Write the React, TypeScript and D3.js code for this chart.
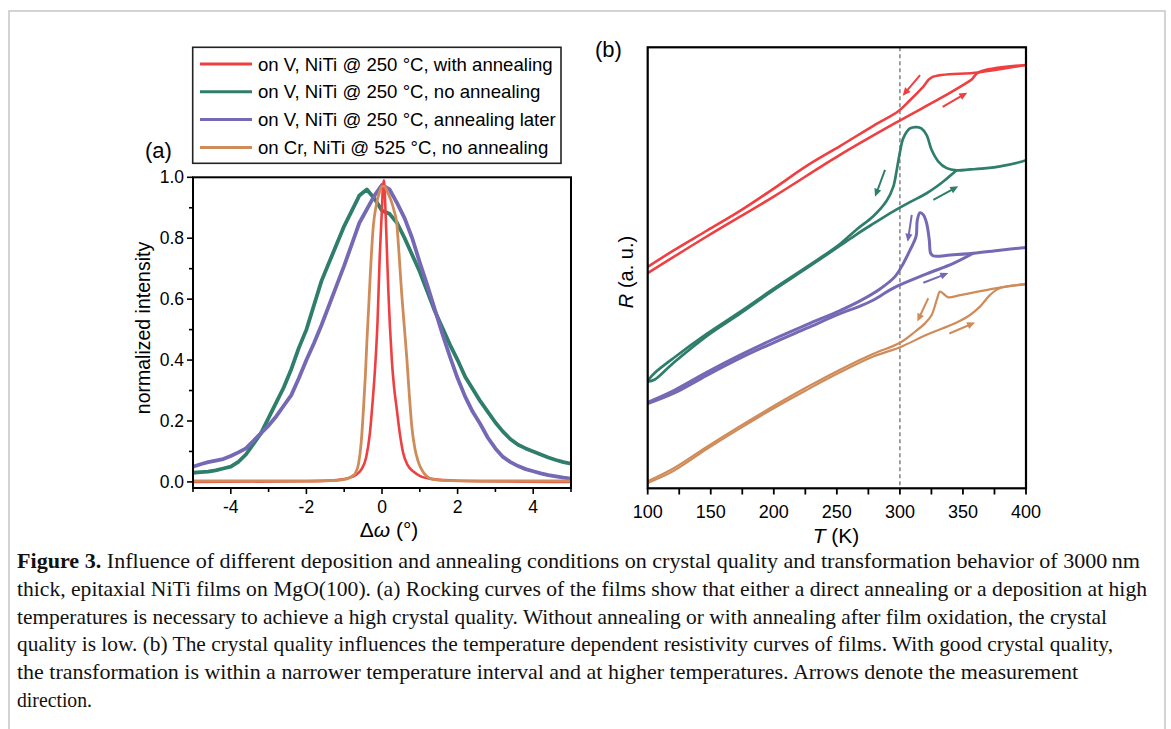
import React from "react";
import * as d3 from "d3";

const W = 1171;
const H = 729;

// ---- panel (a): rocking curves ----
const omegaGrid = [
  -5.0, -4.8, -4.6, -4.4, -4.2, -4.0, -3.8, -3.6, -3.4, -3.2, -3.0, -2.8, -2.6, -2.4, -2.2, -2.0, -1.8,
  -1.6, -1.4, -1.2, -1.0, -0.8, -0.6, -0.4, -0.2, 0.0, 0.2, 0.4, 0.6, 0.8, 1.0, 1.2, 1.4, 1.6, 1.8, 2.0,
  2.2, 2.4, 2.6, 2.8, 3.0, 3.2, 3.4, 3.6, 3.8, 4.0, 4.2, 4.4, 4.6, 4.8, 5.0,
];
const greenIntensity = [
  0.03, 0.032, 0.034, 0.038, 0.044, 0.05, 0.066, 0.09, 0.125, 0.16, 0.21, 0.26, 0.31, 0.37, 0.44, 0.5,
  0.58, 0.66, 0.72, 0.78, 0.84, 0.89, 0.94, 0.96, 0.93, 0.89, 0.88, 0.85, 0.8, 0.745, 0.69, 0.625, 0.56,
  0.505, 0.45, 0.4, 0.345, 0.305, 0.265, 0.23, 0.195, 0.165, 0.14, 0.122, 0.11, 0.1, 0.09, 0.08, 0.072,
  0.065, 0.06,
];
const purpleIntensity = [
  0.05, 0.058, 0.065, 0.07, 0.075, 0.085, 0.097, 0.11, 0.135, 0.16, 0.185, 0.215, 0.25, 0.285, 0.34, 0.4,
  0.455, 0.515, 0.58, 0.645, 0.71, 0.78, 0.85, 0.895, 0.94, 0.975, 0.96, 0.915, 0.865, 0.8, 0.72, 0.645,
  0.565, 0.485, 0.41, 0.34, 0.28, 0.23, 0.19, 0.145, 0.11, 0.082, 0.065, 0.052, 0.042, 0.035, 0.028,
  0.022, 0.018, 0.014, 0.011,
];
const redOmega = [
  -5, -2, -1.2, -0.9, -0.7, -0.55, -0.42, -0.32, -0.25, -0.18, -0.12, -0.06, 0.0, 0.02, 0.05, 0.09, 0.13,
  0.17, 0.21, 0.26, 0.32, 0.39, 0.47, 0.56, 0.68, 0.83, 1.0, 1.3, 2, 5,
];
const redIntensity = [
  0.0, 0.002, 0.006, 0.012, 0.022, 0.04, 0.08, 0.16, 0.26, 0.38, 0.52, 0.74, 0.9, 0.96, 0.99, 0.9, 0.76,
  0.62, 0.51, 0.4, 0.31, 0.24, 0.16, 0.095, 0.055, 0.034, 0.02, 0.01, 0.004, 0.0,
];
const orangeOmega = [
  -5, -2, -1.2, -0.93, -0.8, -0.7, -0.62, -0.55, -0.49, -0.44, -0.4, -0.35, -0.31, -0.23, -0.15, -0.07,
  0.0, 0.07, 0.15, 0.25, 0.32, 0.39, 0.45, 0.52, 0.59, 0.66, 0.72, 0.79, 0.87, 0.95, 1.05, 1.17, 1.3, 1.6,
  2.5, 5,
];
const orangeIntensity = [
  0.003, 0.003, 0.005, 0.01, 0.018, 0.03, 0.06, 0.13, 0.24, 0.35, 0.46, 0.58, 0.68, 0.84, 0.91, 0.95,
  0.97, 0.97, 0.95, 0.92, 0.89, 0.85, 0.75, 0.62, 0.51, 0.4, 0.29, 0.18, 0.11, 0.07, 0.04, 0.02, 0.01,
  0.005, 0.003, 0.003,
];

const legendLabels = [
  "on V, NiTi @ 250 °C, with annealing",
  "on V, NiTi @ 250 °C, no annealing",
  "on V, NiTi @ 250 °C, annealing later",
  "on Cr, NiTi @ 525 °C, no annealing",
];
const colors = ["#f03f40", "#2f7e6b", "#7569b5", "#cf8c5a"];

const omegaTicks = [-4, -2, 0, 2, 4];
const omegaMinor = [-5, -3, -1, 1, 3, 5];
const intensityTicks = [0, 0.2, 0.4, 0.6, 0.8, 1.0];
const intensityMinor = [0.1, 0.3, 0.5, 0.7, 0.9];

// ---- panel (b): resistance vs temperature (a.u.) ----
const redCoolT = [400, 362.2, 325.2, 318.6, 308, 298.7, 278.9, 252.5, 226.1, 199.6, 173.2, 146.8, 120.3, 100];
const redCoolR = [96.0, 94.3, 93.2, 91.1, 88.0, 85.5, 82.2, 77.6, 73.1, 67.9, 62.9, 58.4, 53.9, 50.2];
const redHeatT = [100, 146.8, 199.6, 252.5, 298.7, 331.8, 350.3, 356.9, 362.2, 400];
const redHeatR = [48.8, 57.1, 66.1, 75.6, 83.2, 88.4, 91.5, 92.7, 94.3, 96.0];

const greenCoolT = [
  400, 395.5, 379.4, 368.8, 355.6, 345.0, 337.1, 330.5, 325.2, 321.2, 317.0, 313.3, 308.0, 302.7, 300.1,
  297.5, 294.8, 289.5, 278.9, 265.7, 252.5, 226.1, 199.6, 173.2, 146.8, 120.3, 105.3, 100,
];
const greenCoolR = [
  74.4, 74.0, 73.0, 72.6, 72.3, 72.1, 72.6, 74.1, 76.7, 80.1, 81.6, 81.9, 81.6, 79.4, 76.3, 72.2, 68.4,
  65.2, 61.7, 58.7, 55.4, 50.2, 45.2, 40.0, 35.0, 29.5, 26.1, 24.4,
];
const greenHeatT = [100, 105.3, 120.3, 146.8, 173.2, 199.6, 226.1, 252.5, 265.7, 278.9, 294.8, 308, 321.2, 330, 337.1, 345];
const greenHeatR = [24.2, 24.6, 28.4, 34.5, 39.6, 44.9, 49.9, 55.0, 57.6, 60.0, 62.8, 64.9, 66.9, 68.6, 70.2, 72.1];

const purpleCoolT = [
  400, 379.4, 358.2, 340, 326.5, 324.4, 323.3, 321.2, 318.6, 316.0, 313.8, 312.8, 308.0, 302.7, 296.1,
  284.2, 268.4, 252.5, 226.1, 199.6, 173.2, 146.8, 120.3, 100,
];
const purpleCoolR = [
  54.6, 54.0, 53.3, 52.9, 52.7, 53.3, 56.3, 60.1, 62.0, 62.5, 60.8, 57.1, 54.0, 51.0, 48.0, 45.2, 42.5,
  40.3, 37.1, 33.8, 30.2, 26.3, 22.1, 19.5,
];
const purpleHeatT = [100, 120.3, 146.8, 173.2, 199.6, 226.1, 252.5, 268.4, 279, 294.8, 321.2, 342.4, 358.2];
const purpleHeatR = [19.2, 21.5, 25.6, 29.5, 33.0, 36.3, 39.6, 41.3, 42.7, 45.4, 48.6, 51.0, 53.3];

const orangeCoolT = [
  400, 376.8, 347.7, 338.4, 335, 331.8, 329.2, 325.2, 319.9, 312, 300.1, 279, 252.5, 226.1, 199.6, 173.2,
  146.8, 120.3, 100,
];
const orangeCoolR = [
  46.3, 45.4, 43.8, 43.3, 44.0, 44.6, 42.7, 39.3, 37.4, 35.5, 33.0, 30.5, 26.9, 22.9, 18.6, 14.1, 9.4,
  4.5, 1.6,
];
const orangeHeatT = [100, 120.3, 146.8, 173.2, 199.6, 226.1, 252.5, 278.9, 300.1, 321.2, 345, 355.6, 363.5, 371.4, 379.4, 400];
const orangeHeatR = [1.2, 3.9, 8.9, 13.6, 18.1, 22.3, 26.3, 29.9, 32.0, 34.8, 37.6, 39.3, 41.2, 43.8, 45.4, 46.3];

// arrows: start T, start R, end T, end R, series index
const arrowStartT = [316.0, 333.9, 288.2, 326.5, 309.4, 318.6, 322.5, 339.2];
const arrowStartR = [93.7, 86.5, 72.2, 65.4, 62.0, 46.6, 43.1, 35.1];
const arrowEndT = [302.2, 353.4, 280.3, 346.3, 306.2, 338.4, 313.8, 359.6];
const arrowEndR = [89.0, 89.7, 66.1, 68.5, 55.9, 48.8, 37.8, 37.6];
const arrowSeries = [0, 0, 1, 1, 2, 2, 3, 3];

const tempTicks = [100, 150, 200, 250, 300, 350, 400];
const tempMinor = [125, 175, 225, 275, 325, 375];

const captionLines = [
  "Influence of different deposition and annealing conditions on crystal quality and transformation behavior of 3000\u2009nm",
  "thick, epitaxial NiTi films on MgO(100). (a) Rocking curves of the films show that either a direct annealing or a deposition at high",
  "temperatures is necessary to achieve a high crystal quality. Without annealing or with annealing after film oxidation, the crystal",
  "quality is low. (b) The crystal quality influences the temperature dependent resistivity curves of films. With good crystal quality,",
  "the transformation is within a narrower temperature interval and at higher temperatures. Arrows denote the measurement",
  "direction.",
];
const captionWidths = [1123, 1130, 1090, 1096, 1061, 75];

const zip = (xs: number[], ys: number[]) => xs.map((x, i) => [x, ys[i]] as [number, number]);

function Arrow({ x1, y1, x2, y2, color }: { x1: number; y1: number; x2: number; y2: number; color: string }) {
  const dx = x2 - x1;
  const dy = y2 - y1;
  const len = Math.hypot(dx, dy);
  const ux = dx / len;
  const uy = dy / len;
  const head = 8;
  const half = 3.6;
  const bx = x2 - ux * head;
  const by = y2 - uy * head;
  const pts = `${x2},${y2} ${bx - uy * half},${by + ux * half} ${bx + uy * half},${by - ux * half}`;
  return (
    <g>
      <line x1={x1} y1={y1} x2={bx + ux} y2={by + uy} stroke={color} strokeWidth={2} />
      <polygon points={pts} fill={color} />
    </g>
  );
}

export default function App() {
  // panel (a) scales
  const xA = d3.scaleLinear().domain([-5, 5]).range([193, 571]);
  const yA = d3.scaleLinear().domain([-0.02, 1]).range([488, 177.3]);
  const smoothA = d3
    .line<[number, number]>()
    .x((d) => xA(d[0]))
    .y((d) => yA(d[1]))
    .curve(d3.curveMonotoneX);
  const lineNoisy = d3
    .line<[number, number]>()
    .x((d) => xA(d[0]))
    .y((d) => yA(d[1]))
    .curve(d3.curveLinear);

  // panel (b) scales
  const xB = d3.scaleLinear().domain([100, 400]).range([647.7, 1026]);
  const yB = d3.scaleLinear().domain([0, 100]).range([488.3, 47.3]);
  const lineB = d3
    .line<[number, number]>()
    .x((d) => xB(d[0]))
    .y((d) => yB(d[1]))
    .curve(d3.curveCatmullRom.alpha(0.5));

  const bSeries = [
    { cool: zip(redCoolT, redCoolR), heat: zip(redHeatT, redHeatR), w: 2.6 },
    { cool: zip(greenCoolT, greenCoolR), heat: zip(greenHeatT, greenHeatR), w: 2.7 },
    { cool: zip(purpleCoolT, purpleCoolR), heat: zip(purpleHeatT, purpleHeatR), w: 3 },
    { cool: zip(orangeCoolT, orangeCoolR), heat: zip(orangeHeatT, orangeHeatR), w: 2.2 },
  ];

  const font = "'Liberation Sans', Arial, sans-serif";

  return (
    <svg
      width={W}
      height={H}
      style={{ position: "absolute", left: 0, top: 0, background: "#fff" }}
      fontFamily={font}
    >
      <defs>
        <clipPath id="clipA">
          <rect x={193} y={177.3} width={378} height={310.7} />
        </clipPath>
        <clipPath id="clipB">
          <rect x={647.7} y={47.3} width={378.3} height={441} />
        </clipPath>
      </defs>

      {/* outer figure frame */}
      <rect x={9} y={11} width={1156} height={740} fill="none" stroke="#c6c6c6" strokeWidth={1.5} />

      {/* ---------- panel (a) ---------- */}
      <g clipPath="url(#clipA)" fill="none" strokeLinejoin="round">
        <path d={lineNoisy(zip(omegaGrid, greenIntensity)) || ""} stroke={colors[1]} strokeWidth={3.8} />
        <path d={lineNoisy(zip(omegaGrid, purpleIntensity)) || ""} stroke={colors[2]} strokeWidth={3.8} />
        <path d={smoothA(zip(redOmega, redIntensity)) || ""} stroke={colors[0]} strokeWidth={2.6} />
        <path d={smoothA(zip(orangeOmega, orangeIntensity)) || ""} stroke={colors[3]} strokeWidth={2.8} />
      </g>
      <rect x={193} y={177.3} width={378} height={310.7} fill="none" stroke="#000" strokeWidth={2} />
      {omegaTicks.map((t) => (
        <g key={"xa" + t}>
          <line x1={xA(t)} x2={xA(t)} y1={488} y2={494} stroke="#000" strokeWidth={1.6} />
          <text x={xA(t)} y={513} textAnchor="middle" fontSize={17.5}>
            {String(t)}
          </text>
        </g>
      ))}
      {omegaMinor.map((t) => (
        <line key={"xam" + t} x1={xA(t)} x2={xA(t)} y1={488} y2={492} stroke="#000" strokeWidth={1.6} />
      ))}
      {intensityTicks.map((t) => (
        <g key={"ya" + t}>
          <line x1={187} x2={193} y1={yA(t)} y2={yA(t)} stroke="#000" strokeWidth={1.6} />
          <text x={184} y={yA(t) + 6} textAnchor="end" fontSize={17.5}>
            {d3.format(".1f")(t)}
          </text>
        </g>
      ))}
      {intensityMinor.map((t) => (
        <line key={"yam" + t} x1={189} x2={193} y1={yA(t)} y2={yA(t)} stroke="#000" strokeWidth={1.6} />
      ))}
      <text transform="translate(150,328) rotate(-90)" textAnchor="middle" fontSize={19.5}>
        normalized intensity
      </text>
      <text x={389} y={537} textAnchor="middle" fontSize={21}>
        Δ<tspan fontStyle="italic">ω</tspan> (°)
      </text>
      <text x={145} y={158} fontSize={22}>
        (a)
      </text>

      {/* legend */}
      <rect x={192.7} y={47.3} width={368.3} height={116} fill="#fff" stroke="#222" strokeWidth={1.6} />
      {legendLabels.map((label, i) => {
        const ly = 64 + i * 27.8;
        return (
          <g key={label}>
            <line x1={200} x2={252} y1={ly} y2={ly} stroke={colors[i]} strokeWidth={3} />
            <text x={258} y={ly + 6.5} fontSize={18.6}>
              {label}
            </text>
          </g>
        );
      })}

      {/* ---------- panel (b) ---------- */}
      <line
        x1={xB(300)}
        x2={xB(300)}
        y1={47.3}
        y2={488.3}
        stroke="#8a8a8a"
        strokeWidth={1.6}
        strokeDasharray="4,3"
      />
      <g clipPath="url(#clipB)" fill="none" strokeLinejoin="round" strokeLinecap="round">
        {bSeries.map((s, i) => (
          <g key={"b" + i} stroke={colors[i]} strokeWidth={s.w}>
            <path d={lineB(s.heat) || ""} />
            <path d={lineB(s.cool) || ""} />
          </g>
        ))}
      </g>
      {arrowSeries.map((si, i) => (
        <Arrow
          key={"ar" + i}
          x1={xB(arrowStartT[i])}
          y1={yB(arrowStartR[i])}
          x2={xB(arrowEndT[i])}
          y2={yB(arrowEndR[i])}
          color={colors[si]}
        />
      ))}
      <rect x={647.7} y={47.3} width={378.3} height={441} fill="none" stroke="#000" strokeWidth={2.2} />
      {tempTicks.map((t) => (
        <g key={"xb" + t}>
          <line x1={xB(t)} x2={xB(t)} y1={488.3} y2={494.5} stroke="#000" strokeWidth={1.8} />
          <text x={xB(t)} y={518} textAnchor="middle" fontSize={18}>
            {t}
          </text>
        </g>
      ))}
      {tempMinor.map((t) => (
        <line key={"xbm" + t} x1={xB(t)} x2={xB(t)} y1={488.3} y2={494.5} stroke="#000" strokeWidth={1.8} />
      ))}
      <text x={836} y={543} textAnchor="middle" fontSize={21}>
        <tspan fontStyle="italic">T</tspan> (K)
      </text>
      <text transform="translate(633,272) rotate(-90)" textAnchor="middle" fontSize={20}>
        <tspan fontStyle="italic">R</tspan> (a. u.)
      </text>
      <text x={595} y={57} fontSize={22}>
        (b)
      </text>

      {/* ---------- caption ---------- */}
      <g fontFamily="'Liberation Serif', 'Times New Roman', serif" fontSize={21} fill="#111">
        {captionLines.map((line, i) => {
          const y = 568 + i * 27.8;
          return (
            <text
              key={"cap" + i}
              x={17}
              y={y}
              textLength={captionWidths[i]}
              lengthAdjust="spacingAndGlyphs"
            >
              {i === 0 ? <tspan fontWeight="bold">Figure 3.</tspan> : null}
              {i === 0 ? " " + line : line}
            </text>
          );
        })}
      </g>
    </svg>
  );
}
